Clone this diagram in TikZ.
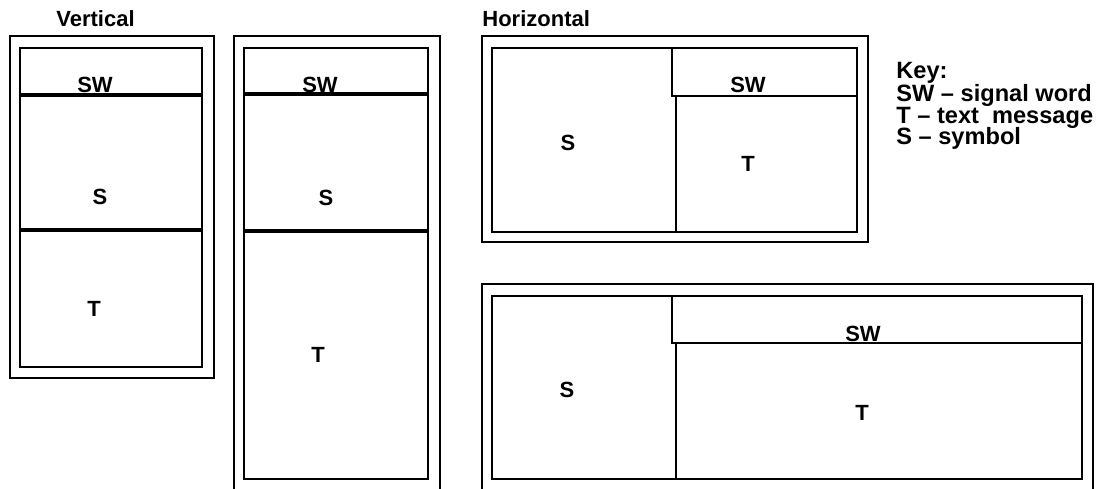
\documentclass[tikz,border=0pt]{standalone}
\usepackage{fontspec}
\setmainfont{Liberation Sans}
\begin{document}
\begin{tikzpicture}[x=0.5pt,y=-0.5pt,
  box/.style={draw=black,line width=1.3pt},
  divider/.style={draw=black,line width=2pt},
  lbl/.style={inner sep=0pt,font=\fontsize{11}{13}\selectfont\bfseries},
  baselbl/.style={lbl,anchor=base},
  title/.style={lbl,anchor=base west},
  keyline/.style={inner sep=0pt,anchor=base west,font=\fontsize{11.8}{14}\selectfont\bfseries}]
\clip (0,0) rectangle (1102,488);
\fill[white] (0,0) rectangle (1102,488);
% titles
\node[title] (tv) at (56,26) {Vertical};
\node[title] (th) at (482,26) {Horizontal};
% panel 1
\draw[box] (10,36) rectangle (214,378);
\draw[box] (20,48) rectangle (202,367);
\draw[divider] (20,95) -- (202,95);
\draw[divider] (20,230) -- (202,230);
\node[baselbl] (sw1) at (95,92) {SW};
\node[lbl] (s1) at (100,197) {S};
\node[lbl] (t1) at (94,309) {T};
% panel 2
\draw[box] (234,36) rectangle (440,495);
\draw[box] (244,48) rectangle (428,479);
\draw[divider] (244,94) -- (428,94);
\draw[divider] (244,231) -- (428,231);
\node[baselbl] (sw2) at (320,92) {SW};
\node[lbl] (s2) at (326,198) {S};
\node[lbl] (t2) at (318,355) {T};
% panel 3
\draw[box] (482,36) rectangle (868,242);
\draw[box] (492,48) rectangle (857,232);
\draw[box] (672,48) rectangle (857,96);
\draw[box] (676,96) -- (676,232);
\node[lbl] (s3) at (568,143) {S};
\node[baselbl] (sw3) at (748,92) {SW};
\node[lbl] (t3) at (748,164) {T};
% panel 4
\draw[box] (482,284) rectangle (1093,495);
\draw[box] (492,296) rectangle (1082,479);
\draw[box] (672,296) rectangle (1082,343);
\draw[box] (676,343) -- (676,479);
\node[lbl] (s4) at (567,390) {S};
\node[baselbl] (sw4) at (863,341) {SW};
\node[lbl] (t4) at (862,413) {T};
% key
\node[keyline] (k0) at (896,78) {Key:};
\node[keyline] (k1) at (896,101) {SW -- signal word};
\node[keyline] (k2) at (896,123) {T -- text\ \ message};
\node[keyline] (k3) at (896,144) {S -- symbol};
\end{tikzpicture}
\end{document}
